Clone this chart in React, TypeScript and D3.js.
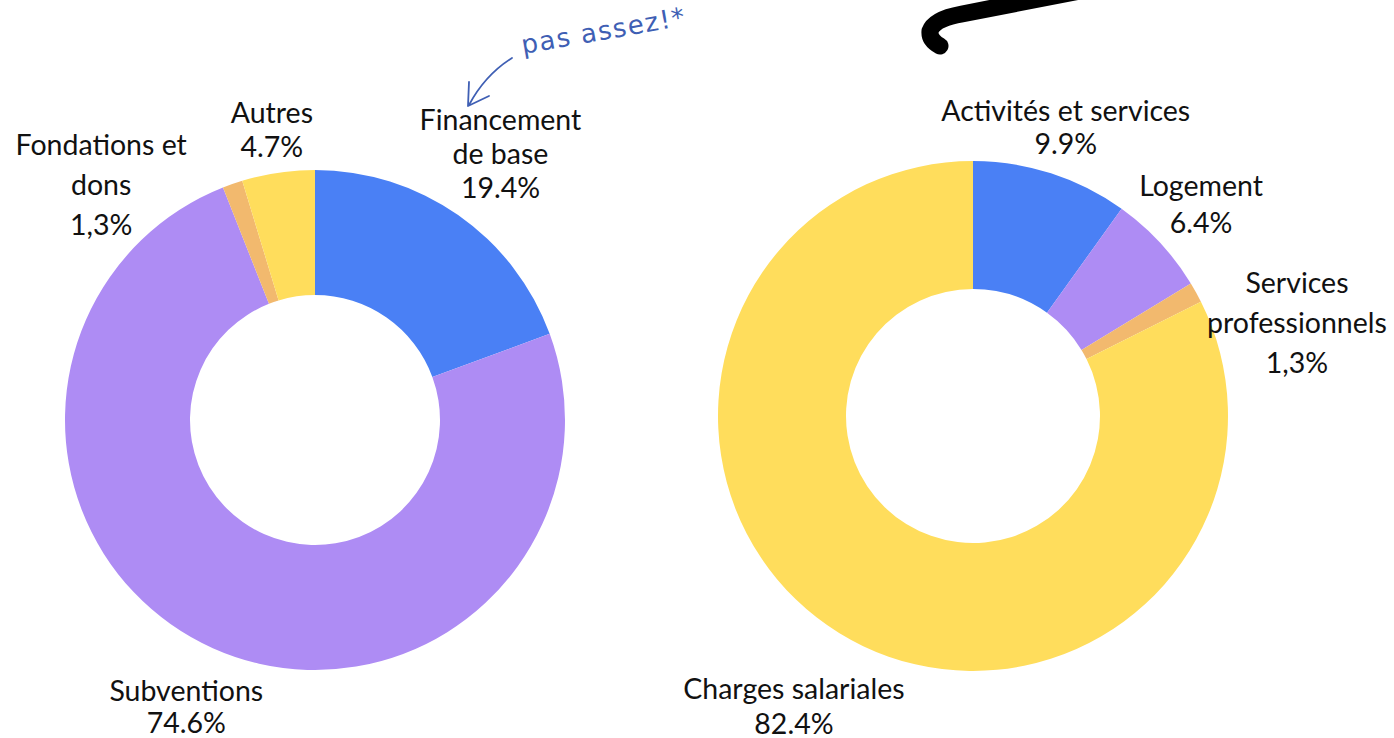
import React from "react";
import * as d3 from "d3";

// left donut: revenus
const revenueLabels = [["Financement", "de base"], ["Subventions"], ["Fondations et", "dons"], ["Autres"]];
const revenueValues = [19.4, 74.6, 1.3, 4.7];
const revenueText = ["19.4%", "74.6%", "1,3%", "4.7%"];

// right donut: dépenses
const expenseLabels = [["Activités et services"], ["Logement"], ["Services", "professionnels"], ["Charges salariales"]];
const expenseValues = [9.9, 6.4, 1.3, 82.4];
const expenseText = ["9.9%", "6.4%", "1,3%", "82.4%"];

const colors = ["#4a80f5", "#ae8cf4", "#f2b96e", "#ffdd5c"];

// label placement (radius, angle nudge in degrees, line height)
const revenueLayout = [
  { r: 324, nudge: 0, lh: 34 },
  { r: 315, nudge: 0, lh: 32 },
  { r: 318, nudge: -23, lh: 40 },
  { r: 293, nudge: 0, lh: 34 },
];
const expenseLayout = [
  { r: 303, nudge: 0, lh: 33 },
  { r: 311, nudge: 0, lh: 37 },
  { r: 337, nudge: 13, lh: 40 },
  { r: 341, nudge: 0, lh: 35 },
];

const FONT = "Lato, 'Open Sans', sans-serif";

type DonutProps = {
  cx: number;
  cy: number;
  outer: number;
  inner: number;
  values: number[];
  labels: string[][];
  pcts: string[];
  layout: { r: number; nudge: number; lh: number }[];
};

const Donut = ({ cx, cy, outer, inner, values, labels, pcts, layout }: DonutProps) => {
  const pie = d3.pie<number>().sort(null).value((d) => d);
  const arcs = pie(values);
  const arc = d3.arc<d3.PieArcDatum<number>>().innerRadius(inner).outerRadius(outer);

  return (
    <g transform={`translate(${cx},${cy})`}>
      {arcs.map((a, i) => (
        <path key={i} d={arc(a) || ""} fill={colors[i]} />
      ))}
      {arcs.map((a, i) => {
        const l = layout[i];
        const mid = (a.startAngle + a.endAngle) / 2 + (l.nudge * Math.PI) / 180;
        const x = l.r * Math.sin(mid);
        const y = -l.r * Math.cos(mid);
        const lines = [...labels[i], pcts[i]];
        const y0 = y - ((lines.length - 1) * l.lh) / 2;
        return (
          <text
            key={"t" + i}
            x={x}
            textAnchor="middle"
            fontFamily={FONT}
            fontSize={28.5}
            fill="#111"
          >
            {lines.map((s, k) => (
              <tspan key={k} x={x} y={y0 + k * l.lh} dy="0.35em">
                {s}
              </tspan>
            ))}
          </text>
        );
      })}
    </g>
  );
};

const App = () => {
  const width = 1394;
  const height = 738;
  return (
    <svg
      width={width}
      height={height}
      style={{ position: "absolute", left: 0, top: 0, background: "#fff" }}
    >
      <Donut
        cx={315}
        cy={420}
        outer={250}
        inner={125}
        values={revenueValues}
        labels={revenueLabels}
        pcts={revenueText}
        layout={revenueLayout}
      />
      <Donut
        cx={973}
        cy={416}
        outer={255}
        inner={127}
        values={expenseValues}
        labels={expenseLabels}
        pcts={expenseText}
        layout={expenseLayout}
      />

      {/* annotation */}
      <text
        x={523}
        y={54}
        transform="rotate(-10 523 54)"
        fontFamily="'DejaVu Sans', sans-serif"
        fontSize={26}
        fill="#3f5fb4"
        letterSpacing={1.5}
      >
        pas assez!*
      </text>
      <path
        d="M512 58 Q485 75 469 105"
        fill="none"
        stroke="#3f5fb4"
        strokeWidth={1.8}
        strokeLinecap="round"
      />
      <path
        d="M469 82 L468 106 L489 96"
        fill="none"
        stroke="#3f5fb4"
        strokeWidth={1.8}
        strokeLinecap="round"
        strokeLinejoin="round"
      />

      {/* black marker stroke */}
      <path
        d="M1085 -10 L962 14 Q934 19 930 31 Q929 40 940 46"
        fill="none"
        stroke="#000"
        strokeWidth={17}
        strokeLinecap="round"
        strokeLinejoin="round"
      />
    </svg>
  );
};

export default App;
